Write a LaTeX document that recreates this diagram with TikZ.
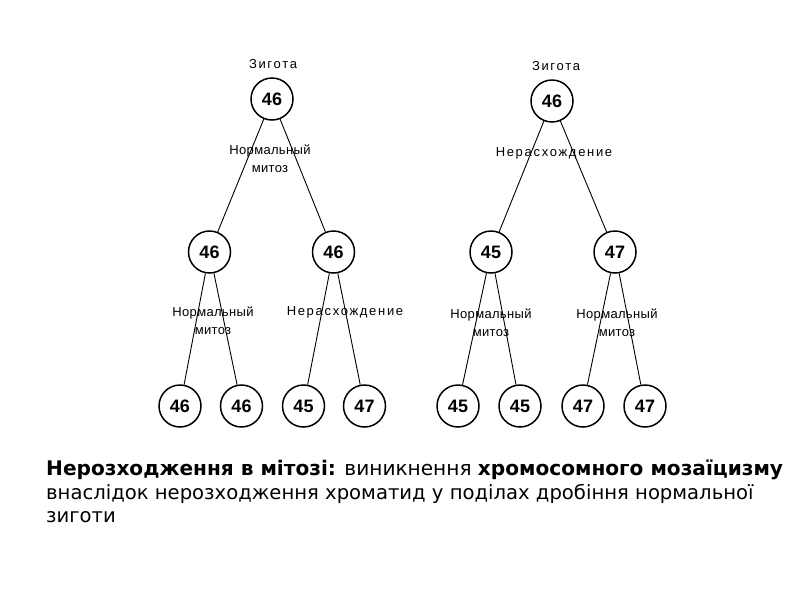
\documentclass[tikz,border=0pt]{standalone}
\usepackage{fontspec}
\setmainfont{DejaVu Sans}
\newfontfamily\diag[LetterSpace=2.5]{Liberation Sans}
\newfontfamily\diagw[LetterSpace=13]{Liberation Sans}
\newfontfamily\diagnum{Liberation Sans}
\begin{document}
\begin{tikzpicture}[x=1pt,y=-1pt,
  cell/.style={circle,draw,line width=1.5pt,minimum size=42pt,inner sep=0pt,font=\diagnum\fontsize{18}{18}\selectfont\bfseries},
  lbl/.style={inner sep=0pt,font=\diag\fontsize{13}{18}\selectfont,align=center},
  lblw/.style={inner sep=0pt,font=\diagw\fontsize{13}{18}\selectfont,align=center},
  edge/.style={line width=0.9pt},
  captxt/.style={anchor=base west,inner sep=0pt,font=\fontsize{20.1}{24}\selectfont},
  captxtb/.style={anchor=base west,inner sep=0pt,font=\fontsize{19.6}{24}\selectfont}]
\useasboundingbox (0,0) rectangle (800,600);
% left tree
\node[lblw] (zl) at (273,64) {Зигота};
\node[cell] (rl) at (272,99) {46};
\node[cell] (a) at (209.5,252) {46};
\node[cell] (b) at (333.5,252) {46};
\node[cell] (a1) at (180,406) {46};
\node[cell] (a2) at (241.5,406) {46};
\node[cell] (b1) at (303.5,406) {45};
\node[cell] (b2) at (364.5,406) {47};
\draw[edge] (rl) -- (a);
\draw[edge] (rl) -- (b);
\draw[edge] (a) -- (a1);
\draw[edge] (a) -- (a2);
\draw[edge] (b) -- (b1);
\draw[edge] (b) -- (b2);
\node[lbl] (ml) at (270,159) {Нормальный\\митоз};
\node[lbl] (ma) at (213,320.5) {Нормальный\\митоз};
\node[lblw] (nb) at (345,312) {Нерасхождение};
% right tree
\node[lblw] (zr) at (556,66) {Зигота};
\node[cell] (rr) at (552,101) {46};
\node[cell] (c) at (491,252) {45};
\node[cell] (d) at (615,252) {47};
\node[cell] (c1) at (458,406) {45};
\node[cell] (c2) at (520,406) {45};
\node[cell] (d1) at (583,406) {47};
\node[cell] (d2) at (645,406) {47};
\draw[edge] (rr) -- (c);
\draw[edge] (rr) -- (d);
\draw[edge] (c) -- (c1);
\draw[edge] (c) -- (c2);
\draw[edge] (d) -- (d1);
\draw[edge] (d) -- (d2);
\node[lblw] (nr) at (554,153) {Нерасхождение};
\node[lbl] (mc) at (491,322.5) {Нормальный\\митоз};
\node[lbl] (md) at (617,322.5) {Нормальный\\митоз};
% caption
\node[captxt] (t1) at (46,475) {\textbf{Нерозходження в мітозі:} виникнення \textbf{хромосомного мозаїцизму}};
\node[captxtb] (t2) at (46,499) {внаслідок нерозходження хроматид у поділах дробіння нормальної};
\node[captxtb] (t3) at (46,522) {зиготи};
\end{tikzpicture}
\end{document}
